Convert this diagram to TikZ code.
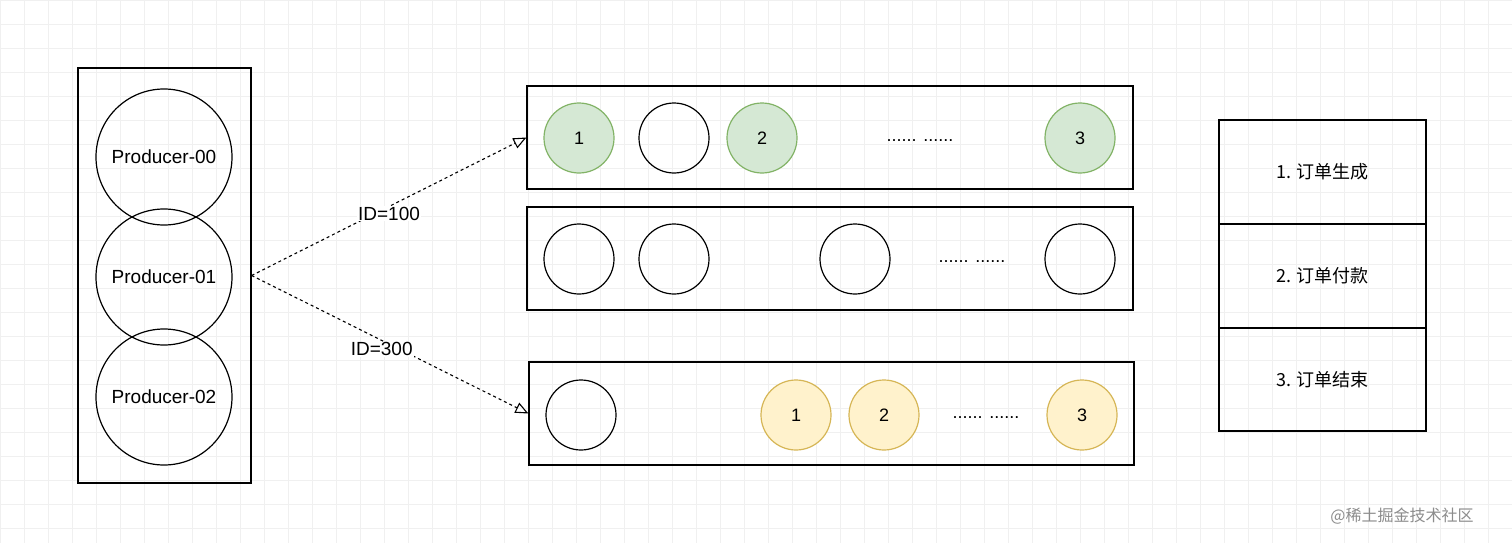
\documentclass[tikz,border=0pt]{standalone}
\usepackage{fontspec}
\setmainfont{Liberation Sans}
\newfontfamily\cjk{Noto Sans CJK SC}
\usetikzlibrary{arrows.meta}
\definecolor{gf}{HTML}{D5E8D4}\definecolor{gd}{HTML}{82B366}
\definecolor{yf}{HTML}{FFF2CC}\definecolor{yd}{HTML}{D6B656}
\begin{document}
\begin{tikzpicture}[x=1pt,y=-1pt,
  every node/.style={font=\fontsize{18}{20}\selectfont},
  q/.style={circle,draw=black,line width=1.2pt,minimum size=70pt,inner sep=0pt},
  g/.style={q,fill=gf,draw=gd},
  yl/.style={q,fill=yf,draw=yd},
  pc/.style={circle,draw=black,line width=1.2pt,minimum size=136pt,inner sep=0pt,font=\fontsize{19}{21}\selectfont},
  box/.style={draw=black,line width=1.2pt,inner sep=0pt},
  arr/.style={dashed,line width=1.1pt,-{Triangle[open,length=13pt,width=11pt]}}]
\useasboundingbox (0,0) rectangle (1512,543);
\fill[white] (0,0) rectangle (1512,543);
\draw[black!6,line width=0.6pt] (0,0) grid[step=24pt] (1512,543);
% producers
\node[box,minimum width=173pt,minimum height=415pt] (grp) at (164.5,275.5) {};
\node[pc] (p0) at (164,157) {Producer-00};
\node[pc] (p1) at (164,277) {Producer-01};
\node[pc] (p2) at (164,397) {Producer-02};
% queues
\node[box,minimum width=606pt,minimum height=103pt] (q1) at (830,137.5) {};
\node[box,minimum width=606pt,minimum height=103pt] (q2) at (830,258.5) {};
\node[box,minimum width=605pt,minimum height=103pt] (q3) at (831.5,413.5) {};
\node[g] (a1) at (579,138) {1};
\node[q] (a2) at (674,138) {};
\node[g] (a3) at (762,138) {2};
\node (ad) at (920,141) {...... ......};
\node[g] (a4) at (1080,138) {3};
\node[q] (b1) at (579,259) {};
\node[q] (b2) at (674,259) {};
\node[q] (b3) at (855,259) {};
\node (bd) at (972,262) {...... ......};
\node[q] (b4) at (1080,259) {};
\node[q] (c1) at (581,415) {};
\node[yl] (c2) at (796,415) {1};
\node[yl] (c3) at (884,415) {2};
\node (cd) at (986,418) {...... ......};
\node[yl] (c4) at (1082,415) {3};
% arrows
\draw[arr] (grp.east) -- (q1.west) node[pos=0.5,yshift=-7pt,fill=white,inner sep=1pt,font=\fontsize{19}{21}\selectfont] (l1) {ID=100};
\draw[arr] (grp.east) -- (q3.west) node[pos=0.47,yshift=-9pt,fill=white,inner sep=1pt,font=\fontsize{19}{21}\selectfont] (l2) {ID=300};
% table
\node[box,minimum width=207pt,minimum height=104pt] (t1) at (1322.5,172) {\cjk 1. 订单生成};
\node[box,minimum width=207pt,minimum height=104pt] (t2) at (1322.5,276) {\cjk 2. 订单付款};
\node[box,minimum width=207pt,minimum height=103pt] (t3) at (1322.5,379.5) {\cjk 3. 订单结束};
\node[text=black!45,font=\fontsize{16}{18}\selectfont] (wm) at (1402,516) {\cjk @稀土掘金技术社区};
\end{tikzpicture}
\end{document}
